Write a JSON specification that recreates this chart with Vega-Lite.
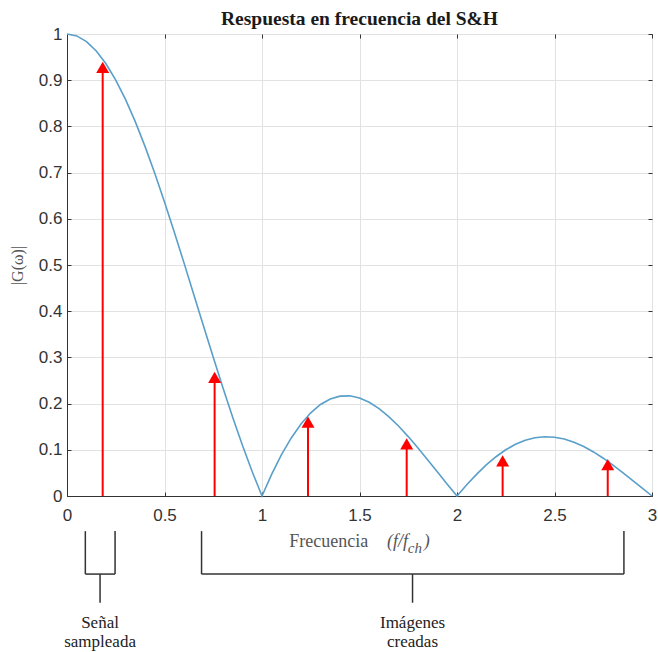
{
  "$schema": "https://vega.github.io/schema/vega-lite/v6.json",
  "width": 585,
  "height": 462,
  "autosize": "none",
  "padding": {"left": 67, "top": 34, "right": 6, "bottom": 156},
  "background": "white",
  "title": {"text": "Respuesta en frecuencia del S&H", "font": "Liberation Serif", "fontSize": 19.5, "fontWeight": "bold", "color": "#1a1a1a", "offset": -4, "anchor": "middle"},
  "config": {
    "view": {"stroke": "#333333", "strokeWidth": 1},
    "axis": {"labelFont": "Liberation Sans", "labelFontSize": 17, "labelColor": "#333333", "labelFlush": false, "labelOverlap": false, "labelBound": false, "gridColor": "#e2e2e2", "gridWidth": 1, "domainColor": "#333333", "tickColor": "#333333", "titleFont": "Liberation Serif", "titleFontWeight": "normal"}
  },
  "datasets": {
    "curve": [
      {"f": 0, "g": 1}, {"f": 0.05, "g": 0.9959}, {"f": 0.1, "g": 0.9836}, {"f": 0.15, "g": 0.9634}, {"f": 0.2, "g": 0.9355},
      {"f": 0.25, "g": 0.9003}, {"f": 0.3, "g": 0.8584}, {"f": 0.35, "g": 0.8103}, {"f": 0.4, "g": 0.7568}, {"f": 0.45, "g": 0.6986},
      {"f": 0.5, "g": 0.6366}, {"f": 0.55, "g": 0.5716}, {"f": 0.6, "g": 0.5046}, {"f": 0.65, "g": 0.4363}, {"f": 0.7, "g": 0.3679},
      {"f": 0.75, "g": 0.3001}, {"f": 0.8, "g": 0.2339}, {"f": 0.85, "g": 0.17}, {"f": 0.9, "g": 0.1093}, {"f": 0.95, "g": 0.0524},
      {"f": 1, "g": 0}, {"f": 1.05, "g": 0.0474}, {"f": 1.1, "g": 0.0894}, {"f": 1.15, "g": 0.1257}, {"f": 1.2, "g": 0.1559},
      {"f": 1.25, "g": 0.1801}, {"f": 1.3, "g": 0.1981}, {"f": 1.35, "g": 0.2101}, {"f": 1.4, "g": 0.2162}, {"f": 1.45, "g": 0.2168},
      {"f": 1.5, "g": 0.2122}, {"f": 1.55, "g": 0.2028}, {"f": 1.6, "g": 0.1892}, {"f": 1.65, "g": 0.1719}, {"f": 1.7, "g": 0.1515},
      {"f": 1.75, "g": 0.1286}, {"f": 1.8, "g": 0.1039}, {"f": 1.85, "g": 0.0781}, {"f": 1.9, "g": 0.0518}, {"f": 1.95, "g": 0.0255},
      {"f": 2, "g": 0}, {"f": 2.05, "g": 0.0243}, {"f": 2.1, "g": 0.0468}, {"f": 2.15, "g": 0.0672}, {"f": 2.2, "g": 0.085},
      {"f": 2.25, "g": 0.1}, {"f": 2.3, "g": 0.112}, {"f": 2.35, "g": 0.1207}, {"f": 2.4, "g": 0.1261}, {"f": 2.45, "g": 0.1283},
      {"f": 2.5, "g": 0.1273}, {"f": 2.55, "g": 0.1233}, {"f": 2.6, "g": 0.1164}, {"f": 2.65, "g": 0.107}, {"f": 2.7, "g": 0.0954},
      {"f": 2.75, "g": 0.0818}, {"f": 2.8, "g": 0.0668}, {"f": 2.85, "g": 0.0507}, {"f": 2.9, "g": 0.0339}, {"f": 2.95, "g": 0.0169},
      {"f": 3, "g": 0}
    ],
    "arrows": [
      {"f": 0.183, "tip": 0.94},
      {"f": 0.757, "tip": 0.269},
      {"f": 1.236, "tip": 0.172},
      {"f": 1.742, "tip": 0.125},
      {"f": 2.234, "tip": 0.088},
      {"f": 2.773, "tip": 0.08}
    ],
    "brackets": [
      {"x": 0.094, "x2": 0.094, "y": -0.076, "y2": -0.169},
      {"x": 0.2465, "x2": 0.2465, "y": -0.076, "y2": -0.169},
      {"x": 0.094, "x2": 0.2465, "y": -0.169, "y2": -0.169},
      {"x": 0.1695, "x2": 0.1695, "y": -0.169, "y2": -0.231},
      {"x": 0.69, "x2": 0.69, "y": -0.076, "y2": -0.169},
      {"x": 2.856, "x2": 2.856, "y": -0.076, "y2": -0.169},
      {"x": 0.69, "x2": 2.856, "y": -0.169, "y2": -0.169},
      {"x": 1.772, "x2": 1.772, "y": -0.169, "y2": -0.231}
    ],
    "notes": [
      {"x": 0.1695, "y": -0.274, "text": "Señal"},
      {"x": 0.1695, "y": -0.315, "text": "sampleada"},
      {"x": 1.772, "y": -0.275, "text": "Imágenes"},
      {"x": 1.772, "y": -0.316, "text": "creadas"}
    ],
    "xtitle": [{"x": 1.342, "y": -0.11, "text": "Frecuencia"}],
    "xtitleItalic": [
      {"x": 1.641, "y": -0.11, "text": "(f/f"},
      {"x": 1.83, "y": -0.11, "text": ")"}
    ],
    "xtitleSub": [{"x": 1.748, "y": -0.124, "text": "ch"}]
  },
  "resolve": {"axis": {"x": "independent", "y": "independent"}},
  "layer": [
    {
      "data": {"name": "curve"},
      "mark": {"type": "line", "color": "#5a9fca", "strokeWidth": 1.6, "clip": false},
      "encoding": {
        "x": {"field": "f", "type": "quantitative", "scale": {"domain": [0, 3], "nice": false, "zero": false},
          "axis": {"orient": "bottom", "values": [0, 0.5, 1, 1.5, 2, 2.5, 3], "format": "~g", "grid": true, "tickSize": -4, "labelPadding": 15, "title": null}},
        "y": {"field": "g", "type": "quantitative", "scale": {"domain": [0, 1], "nice": false, "zero": false},
          "axis": {"orient": "left", "values": [0, 0.1, 0.2, 0.3, 0.4, 0.5, 0.6, 0.7, 0.8, 0.9, 1], "format": "~g", "grid": true, "tickSize": -4, "labelPadding": 9,
            "title": "|G(ω)|", "titleFontSize": 16, "titleColor": "#555555", "titlePadding": 13}}
      }
    },
    {
      "data": {"name": "arrows"},
      "mark": {"type": "rule", "color": "#ff0000", "strokeWidth": 2, "yOffset": 6},
      "encoding": {
        "x": {"field": "f", "type": "quantitative", "axis": {"orient": "top", "values": [0, 0.5, 1, 1.5, 2, 2.5, 3], "labels": false, "grid": false, "domain": false, "tickSize": -4, "title": null}},
        "y": {"field": "tip", "type": "quantitative", "axis": {"orient": "right", "values": [0, 0.1, 0.2, 0.3, 0.4, 0.5, 0.6, 0.7, 0.8, 0.9, 1], "labels": false, "grid": false, "domain": false, "tickSize": -4, "title": null}},
        "y2": {"datum": 0}
      }
    },
    {
      "data": {"name": "arrows"},
      "mark": {"type": "point", "shape": "triangle-up", "filled": true, "color": "#ff0000", "opacity": 1, "size": 169, "yOffset": 5.6, "strokeWidth": 0},
      "encoding": {
        "x": {"field": "f", "type": "quantitative", "axis": null},
        "y": {"field": "tip", "type": "quantitative", "axis": null}
      }
    },
    {
      "data": {"name": "brackets"},
      "mark": {"type": "rule", "color": "#333333", "strokeWidth": 1.5},
      "encoding": {
        "x": {"field": "x", "type": "quantitative", "axis": null},
        "x2": {"field": "x2"},
        "y": {"field": "y", "type": "quantitative", "axis": null},
        "y2": {"field": "y2"}
      }
    },
    {
      "data": {"name": "notes"},
      "mark": {"type": "text", "font": "Liberation Serif", "fontSize": 17, "color": "#222222", "align": "center", "baseline": "middle"},
      "encoding": {
        "x": {"field": "x", "type": "quantitative", "axis": null},
        "y": {"field": "y", "type": "quantitative", "axis": null},
        "text": {"field": "text"}
      }
    },
    {
      "data": {"name": "xtitle"},
      "mark": {"type": "text", "font": "Liberation Serif", "fontSize": 18, "color": "#555555", "align": "center", "baseline": "alphabetic"},
      "encoding": {
        "x": {"field": "x", "type": "quantitative", "axis": null},
        "y": {"field": "y", "type": "quantitative", "axis": null},
        "text": {"field": "text"}
      }
    },
    {
      "data": {"name": "xtitleItalic"},
      "mark": {"type": "text", "font": "Liberation Serif", "fontSize": 18, "fontStyle": "italic", "color": "#555555", "align": "left", "baseline": "alphabetic"},
      "encoding": {
        "x": {"field": "x", "type": "quantitative", "axis": null},
        "y": {"field": "y", "type": "quantitative", "axis": null},
        "text": {"field": "text"}
      }
    },
    {
      "data": {"name": "xtitleSub"},
      "mark": {"type": "text", "font": "Liberation Serif", "fontSize": 15, "fontStyle": "italic", "color": "#555555", "align": "left", "baseline": "alphabetic"},
      "encoding": {
        "x": {"field": "x", "type": "quantitative", "axis": null},
        "y": {"field": "y", "type": "quantitative", "axis": null},
        "text": {"field": "text"}
      }
    }
  ]
}
